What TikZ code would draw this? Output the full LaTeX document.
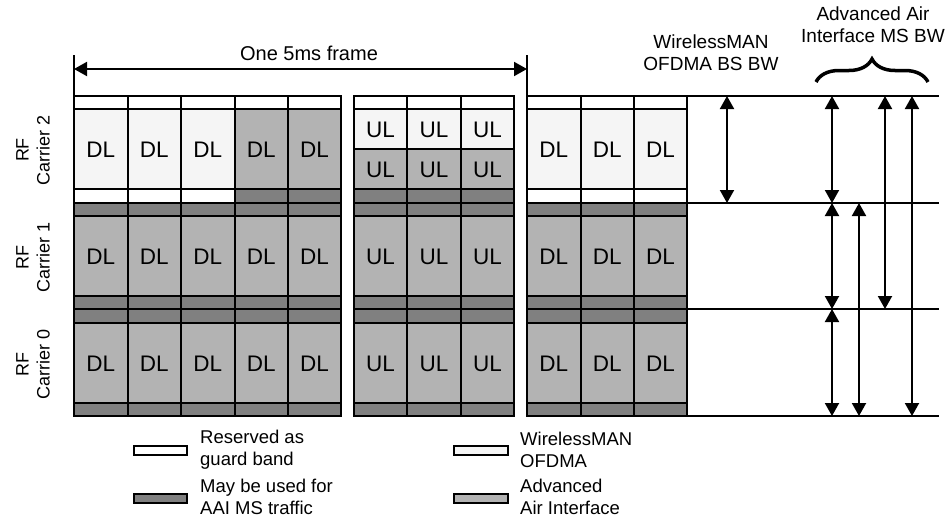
\documentclass[tikz,border=0pt]{standalone}
\usepackage{fontspec}
\setmainfont{Liberation Sans}
\usetikzlibrary{arrows.meta,decorations.pathreplacing}
\definecolor{lightc}{HTML}{F5F5F5}
\definecolor{aaic}{HTML}{B3B3B3}
\definecolor{darkc}{HTML}{808080}
\begin{document}
\begin{tikzpicture}[x=1pt,y=-1pt,
  cellbox/.style={draw=black,line width=2pt},
  lbl/.style={font=\fontsize{22.5}{24}\selectfont,inner sep=0pt},
  hdr/.style={font=\fontsize{19}{22}\selectfont,align=center,inner sep=0pt},
  leg/.style={font=\fontsize{18.5}{22}\selectfont,align=left,anchor=west,inner sep=0pt},
  rfl/.style={font=\fontsize{18}{21}\selectfont,align=center,rotate=90,inner sep=0pt},
  bw/.style={line width=2pt,{Triangle[width=14pt,length=13pt]}-{Triangle[width=14pt,length=13pt]}},
  bwline/.style={line width=2pt}]
\useasboundingbox (0,0) rectangle (946,525);
% ---- carrier 1 and 0: all columns
\foreach \xa/\xb in {74/127.5,127.5/181,181/234.5,234.5/288,288/341,354/407,407/461,461/514,527/580.5,580.5/634,634/687}{
  \draw[cellbox,fill=darkc] (\xa,203) rectangle (\xb,216);
  \draw[cellbox,fill=aaic] (\xa,216) rectangle (\xb,296);
  \draw[cellbox,fill=darkc] (\xa,296) rectangle (\xb,309);
  \draw[cellbox,fill=darkc] (\xa,309) rectangle (\xb,323);
  \draw[cellbox,fill=aaic] (\xa,323) rectangle (\xb,403);
  \draw[cellbox,fill=darkc] (\xa,403) rectangle (\xb,416);
}
% ---- carrier 2: legacy DL columns
\foreach \xa/\xb in {74/127.5,127.5/181,181/234.5,527/580.5,580.5/634,634/687}{
  \draw[cellbox,fill=white] (\xa,96) rectangle (\xb,109);
  \draw[cellbox,fill=lightc] (\xa,109) rectangle (\xb,189);
  \draw[cellbox,fill=white] (\xa,189) rectangle (\xb,203);
}
% ---- carrier 2: AAI DL columns
\foreach \xa/\xb in {234.5/288,288/341}{
  \draw[cellbox,fill=white] (\xa,96) rectangle (\xb,109);
  \draw[cellbox,fill=aaic] (\xa,109) rectangle (\xb,189);
  \draw[cellbox,fill=darkc] (\xa,189) rectangle (\xb,203);
}
% ---- carrier 2: UL columns
\foreach \xa/\xb in {354/407,407/461,461/514}{
  \draw[cellbox,fill=white] (\xa,96) rectangle (\xb,109);
  \draw[cellbox,fill=lightc] (\xa,109) rectangle (\xb,149);
  \draw[cellbox,fill=aaic] (\xa,149) rectangle (\xb,189);
  \draw[cellbox,fill=darkc] (\xa,189) rectangle (\xb,203);
}
% ---- labels in cells
\foreach \x in {100.75,154.25,207.75,261.25,314.5,553.75,607.25,660.5}{
  \node[lbl] at (\x,150) {DL};
}
\foreach \x in {100.75,154.25,207.75,261.25,314.5,553.75,607.25,660.5}{
  \node[lbl] at (\x,257) {DL};
  \node[lbl] at (\x,364) {DL};
}
\foreach \x in {380.5,434,487.5}{
  \node[lbl] at (\x,129.5) {UL};
  \node[lbl] at (\x,169.5) {UL};
  \node[lbl] at (\x,257) {UL};
  \node[lbl] at (\x,364) {UL};
}
% ---- carrier labels
\node[rfl] (rf2) at (33,150) {RF\\Carrier 2};
\node[rfl] (rf1) at (33,257) {RF\\Carrier 1};
\node[rfl] (rf0) at (33,364) {RF\\Carrier 0};
% ---- frame marker
\coordinate (fl0) at (74,55); \coordinate (fl1) at (74,96);
\coordinate (fr0) at (527,55); \coordinate (fr1) at (527,96);
\draw[bwline] (fl0) -- (fl1);
\draw[bwline] (fr0) -- (fr1);
\coordinate (fa) at (74,69); \coordinate (fb) at (527,69);
\draw[bw] (fa) -- (fb);
\node[hdr,font=\fontsize{20}{22}\selectfont] (frame) at (309,53) {One 5ms frame};
% ---- bandwidth region
\coordinate (v0) at (687,96); \coordinate (v1) at (687,416);
\draw[bwline] (v0) -- (v1);
\foreach \y/\n in {96/a,203/b,309/c,416/d}{
  \coordinate (h\n0) at (687,\y);
  \coordinate (h\n1) at (939,\y);
  \draw[bwline] (h\n0) -- (h\n1);
}
\coordinate (w0) at (727,96); \coordinate (w1) at (727,203);
\draw[bw] (w0) -- (w1);
\coordinate (m0) at (832,96); \coordinate (m1) at (832,203);
\coordinate (m2) at (832,309); \coordinate (m3) at (832,416);
\draw[bw] (m0) -- (m1);
\draw[bw] (m1) -- (m2);
\draw[bw] (m2) -- (m3);
\coordinate (n0) at (859,203); \coordinate (n1) at (859,416);
\draw[bw] (n0) -- (n1);
\coordinate (p0) at (885,96); \coordinate (p1) at (885,309);
\draw[bw] (p0) -- (p1);
\coordinate (q0) at (912,96); \coordinate (q1) at (912,416);
\draw[bw] (q0) -- (q1);
\node[hdr] (bsbw) at (711,53) {WirelessMAN\\OFDMA BS BW};
\node[hdr] (msbw) at (873,25) {Advanced Air\\Interface MS BW};
\coordinate (br0) at (816,82) ; \coordinate (br1) at (928,82);
\draw[line width=3.5pt,decorate,decoration={brace,amplitude=23pt}] (br0) -- (br1);
% ---- legend
\draw[cellbox,fill=white] (134,446) rectangle (187,455);
\draw[cellbox,fill=darkc] (134,494) rectangle (187,503);
\draw[cellbox,fill=lightc] (454,446) rectangle (508,455);
\draw[cellbox,fill=aaic] (454,494) rectangle (508,503);
\node[leg] (l1) at (200,450) {Reserved as\\guard band};
\node[leg] (l2) at (200,497) {May be used for\\AAI MS traffic};
\node[leg] (l3) at (520,450) {WirelessMAN\\OFDMA};
\node[leg] (l4) at (520,497) {Advanced\\Air Interface};
\end{tikzpicture}
\end{document}
